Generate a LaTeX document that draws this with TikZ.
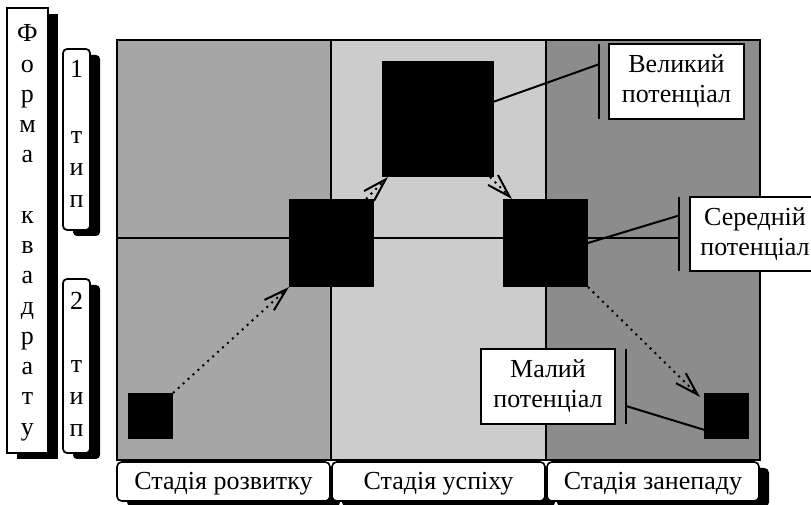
\documentclass[tikz,border=0pt]{standalone}
\usepackage{fontspec}
\setmainfont{Liberation Serif}
\usetikzlibrary{arrows.meta,calc,shadows}

\definecolor{growth}{RGB}{166,166,166}
\definecolor{success}{RGB}{204,204,204}
\definecolor{decline}{RGB}{140,140,140}

\tikzset{
  txt/.style={font=\fontsize{19.5}{22.5}\selectfont, inner sep=0pt, outer sep=0pt},
  grid/.style={line width=1.5pt, draw=black},
  blk/.style={fill=black, draw=none, inner sep=0pt, outer sep=0pt, anchor=north west},
  flow/.style={line width=1.5pt, dash pattern=on 1.5pt off 3.5pt,
    -{Straight Barb[length=17.5pt, width=10.5pt, line width=1.5pt]}},
  conn/.style={line width=1.5pt},
  bar/.style={line width=1.5pt},
  lbl/.style={txt, draw, line width=1.5pt, fill=white, align=center},
  shd/.style={drop shadow={fill=black, opacity=1, shadow xshift=7.5pt, shadow yshift=-4.5pt}},
  stagebox/.style={txt, draw, line width=1.2pt, fill=white, rounded corners=3.5pt,
    shd, minimum height=29.25pt, text height=16pt, text depth=4pt},
  sidebox/.style={draw, line width=1.3pt, fill=white, inner sep=0pt},
}

\begin{document}
\begin{tikzpicture}[x=0.75pt, y=-0.75pt]
\useasboundingbox (0,0) rectangle (811,505);

% three stage columns
\fill[growth]  (117,40) rectangle (331,460);
\fill[success] (331,40) rectangle (546,460);
\fill[decline] (546,40) rectangle (760,460);
\draw[grid] (331,40) -- (331,460);
\draw[grid] (546,40) -- (546,460);
\draw[grid] (117,40) rectangle (760,460);

% potential labels with their bars
\node[lbl, minimum width=101.25pt, minimum height=56.25pt] (V) at (676.5,81.5) {Великий\\потенціал};
\node[lbl, minimum width=97.5pt, minimum height=55.5pt] (S) at (755,234) {Середній\\потенціал};
\node[lbl, minimum width=100.5pt, minimum height=56.25pt] (M) at (548,386.5) {Малий\\потенціал};

\draw[bar] ([xshift=-7.5pt]V.north west) coordinate (vb1) -- ([xshift=-7.5pt]V.south west) coordinate (vb2);
\draw[bar] ([xshift=-8.25pt]S.north west) coordinate (sb1) -- ([xshift=-8.25pt]S.south west) coordinate (sb2);
\draw[bar] ([xshift=8.25pt]M.north east) coordinate (mb1) -- ([xshift=8.25pt]M.south east) coordinate (mb2);

% horizontal divider between the two types, ending at the bar
\coordinate (hl) at (117,238);
\draw[grid] (hl) -- (hl -| sb1);

% squares
\node[blk, minimum width=33.75pt, minimum height=34.5pt] (A) at (128,393) {};
\node[blk, minimum width=63.75pt, minimum height=66pt]   (B) at (289,199) {};
\node[blk, minimum width=84pt,    minimum height=87pt]   (C) at (382,61)  {};
\node[blk, minimum width=63.75pt, minimum height=66pt]   (D) at (503,199) {};
\node[blk, minimum width=33.75pt, minimum height=34.5pt] (E) at (704,393) {};

% life-cycle transitions
\draw[flow] (A.north east) -- (B.south west);
\draw[flow] ([xshift=-6pt]B.north east) -- ([xshift=4.5pt]C.south west);
\draw[flow] ([xshift=-3pt]C.south east) -- ([xshift=6.75pt]D.north west);
\draw[flow] (D.south east) -- ([xshift=-3pt,yshift=-3pt]E.north west);

% label connectors
\draw[conn] ($(C.north east)!0.35!(C.south east)$) -- ($(vb1)!0.27!(vb2)$);
\draw[conn] (D.east) -- ($(sb1)!0.25!(sb2)$);
\draw[conn] ($(mb1)!0.76!(mb2)$) -- ($(E.north west)!0.8!(E.south west)$);

% stage captions
\node[stagebox, minimum width=159.75pt] (s1) at (223.5,481.5) {Стадія розвитку};
\node[stagebox, minimum width=159.75pt] (s2) at (438.5,481.5) {Стадія успіху};
\node[stagebox, minimum width=159pt]    (s3) at (653,481.5)   {Стадія занепаду};

% left-hand side: square form and the two types
\node[sidebox, shd, minimum width=30.75pt, minimum height=333.75pt] (form) at (27.5,230.5) {};
\node[sidebox, shd, rounded corners=3pt, minimum width=20.25pt, minimum height=135.75pt] (t1) at (76.5,139.5) {};
\node[sidebox, shd, rounded corners=3pt, minimum width=20.25pt, minimum height=130.5pt] (t2) at (76.5,366) {};

\foreach \ch [count=\i from 0] in {Ф,о,р,м,а,{},к,в,а,д,р,а,т,у}
  \node[txt, anchor=base] (f\i) at (27.5,{42+30.25*\i}) {\ch};

\node[txt, anchor=base] (n1) at (76.5,78) {1};
\node[txt, anchor=base] (n2) at (76.5,310) {2};
\foreach \ch [count=\i from 0] in {т,и,п} {
  \node[txt, anchor=base] (ta\i) at (76.5,{144+32*\i}) {\ch};
  \node[txt, anchor=base] (tb\i) at (76.5,{373+32*\i}) {\ch};
}
\end{tikzpicture}
\end{document}
